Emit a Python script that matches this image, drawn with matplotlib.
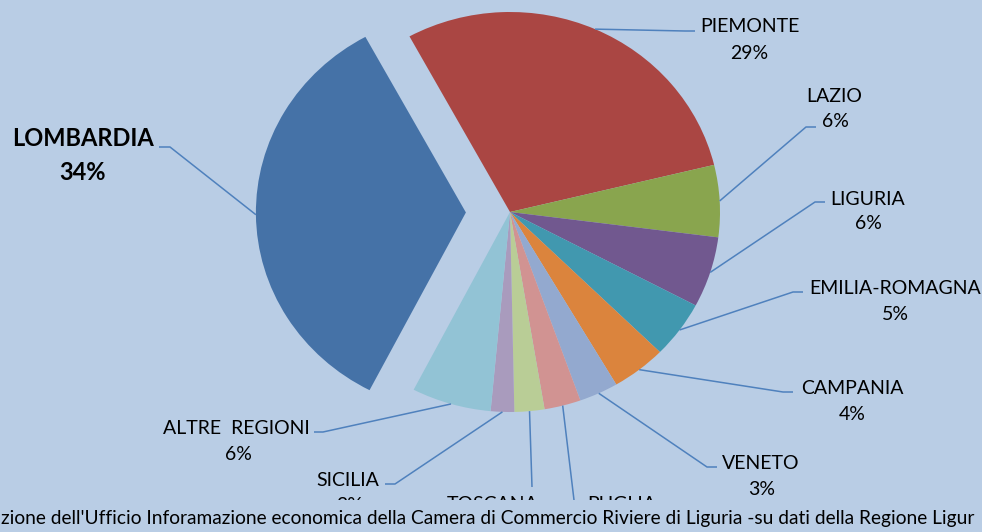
import numpy as np
import matplotlib
matplotlib.use("Agg")
import matplotlib.pyplot as plt
from matplotlib.transforms import Bbox

# ---- data ----
regions = ["PIEMONTE", "LAZIO", "LIGURIA", "EMILIA-ROMAGNA", "CAMPANIA", "VENETO",
           "PUGLIA", "TOSCANA", "SICILIA", "ALTRE  REGIONI", "LOMBARDIA"]
shares = [29.1, 5.8, 5.7, 4.6, 4.2, 3.0, 2.8, 2.3, 1.8, 6.1, 34.4]
colors = ["#AA4643", "#89A54E", "#71588F", "#4198AF", "#DB843D", "#93A9CF",
          "#D19392", "#B9CD96", "#A99BBD", "#92C3D5", "#4572A7"]
footer = ("zione dell'Ufficio Inforamazione economica della Camera di Commercio "
          "Riviere di Liguria -su dati della Regione Ligur")

# ---- layout (pixel positions of label texts and leader elbows) ----
label_layout = {
    "PIEMONTE":       dict(name=(750, 25),  pct=(749, 52),  elbow=(685, 31),  end=(695, 31)),
    "LAZIO":          dict(name=(834, 95),  pct=(835, 120), elbow=(806, 127), end=(816, 127)),
    "LIGURIA":        dict(name=(868, 198), pct=(868, 222), elbow=(815, 202), end=(825, 202)),
    "EMILIA-ROMAGNA": dict(name=(895, 287), pct=(895, 313), elbow=(793, 292), end=(803, 292)),
    "CAMPANIA":       dict(name=(852, 387), pct=(852, 413), elbow=(783, 392), end=(793, 392)),
    "VENETO":         dict(name=(761, 462), pct=(762, 488), elbow=(707, 467), end=(717, 467)),
    "PUGLIA":         dict(name=(622, 503), pct=(622, 529), elbow=(574, 500), end=(574, 505)),
    "TOSCANA":        dict(name=(493, 503), pct=(493, 529), elbow=(532, 487), end=(532, 487)),
    "SICILIA":        dict(name=(348, 479), pct=(350, 504), elbow=(395, 484), end=(385, 484)),
    "ALTRE  REGIONI": dict(name=(236, 427), pct=(238, 453), elbow=(323, 432), end=(314, 432)),
    "LOMBARDIA":      dict(name=(83, 138),  pct=(83, 172),  elbow=(170, 147), end=(159, 147)),
}

BG = "#B9CDE5"
LINE = "#4F81BD"
W, H = 982, 532
PLOT_BOTTOM = 500   # chart area ends here; footer strip below (pixels from top)

fig = plt.figure(figsize=(W / 100, H / 100), dpi=100, facecolor=BG)
ax = fig.add_axes([0, 0, 1, 1])
ax.set_facecolor(BG)

explode = [0.21 if r == "LOMBARDIA" else 0.0 for r in regions]
wedges, _ = ax.pie(shares, colors=colors, startangle=118.6, counterclock=False,
                   explode=explode, radius=1.0, center=(0, 0),
                   wedgeprops=dict(linewidth=0))
ax.set_aspect("auto")
# pie centre at pixel (510, 212); x radius 210 px, y radius 200 px
ax.set_xlim(-510 / 210, (W - 510) / 210)
ax.set_ylim(-(H - 212) / 200, 212 / 200)
ax.axis("off")

ov = fig.add_axes([0, 0, 1, 1], zorder=5)
ov.set_xlim(0, W)
ov.set_ylim(H, 0)
ov.axis("off")
ov.patch.set_alpha(0)

# the chart area is clipped above the footer strip, as in the reference
clip = Bbox.from_extents(0, H - PLOT_BOTTOM, W, H)

total = sum(shares)
to_px = lambda p: ov.transData.inverted().transform(ax.transData.transform(p))

for w, reg, val in zip(wedges, regions, shares):
    lay = label_layout[reg]
    mid = np.deg2rad((w.theta1 + w.theta2) / 2)
    cx, cy = w.center
    sx, sy = to_px((cx + w.r * np.cos(mid), cy + w.r * np.sin(mid)))
    ex, ey = lay["elbow"]
    fx, fy = lay["end"]
    ln, = ov.plot([sx, ex, fx], [sy, ey, fy], color=LINE, lw=1.1, solid_capstyle="butt")
    ln.set_clip_box(clip)
    pct = f"{round(val / total * 100):d}%"
    if reg == "LOMBARDIA":
        kw = dict(family="Lato", fontsize=17, fontweight="bold")
        off = 8.5
    else:
        kw = dict(family="Lato", fontsize=14)
        off = 7
    for txt, pos in ((reg, lay["name"]), (pct, lay["pct"])):
        t = ov.text(pos[0], pos[1] + off, txt, ha="center", va="baseline",
                    color="black", clip_on=True, **kw)
        t.set_clip_box(clip)

ft = ov.text(1, 524, footer, ha="left", va="baseline", family="Lato", fontsize=13,
             color="black", zorder=11)
fig.canvas.draw()
bw = ft.get_window_extent().width
ft.set_fontsize(13 * 972 / bw)

fig.savefig("out.png", dpi=100, facecolor=BG)
